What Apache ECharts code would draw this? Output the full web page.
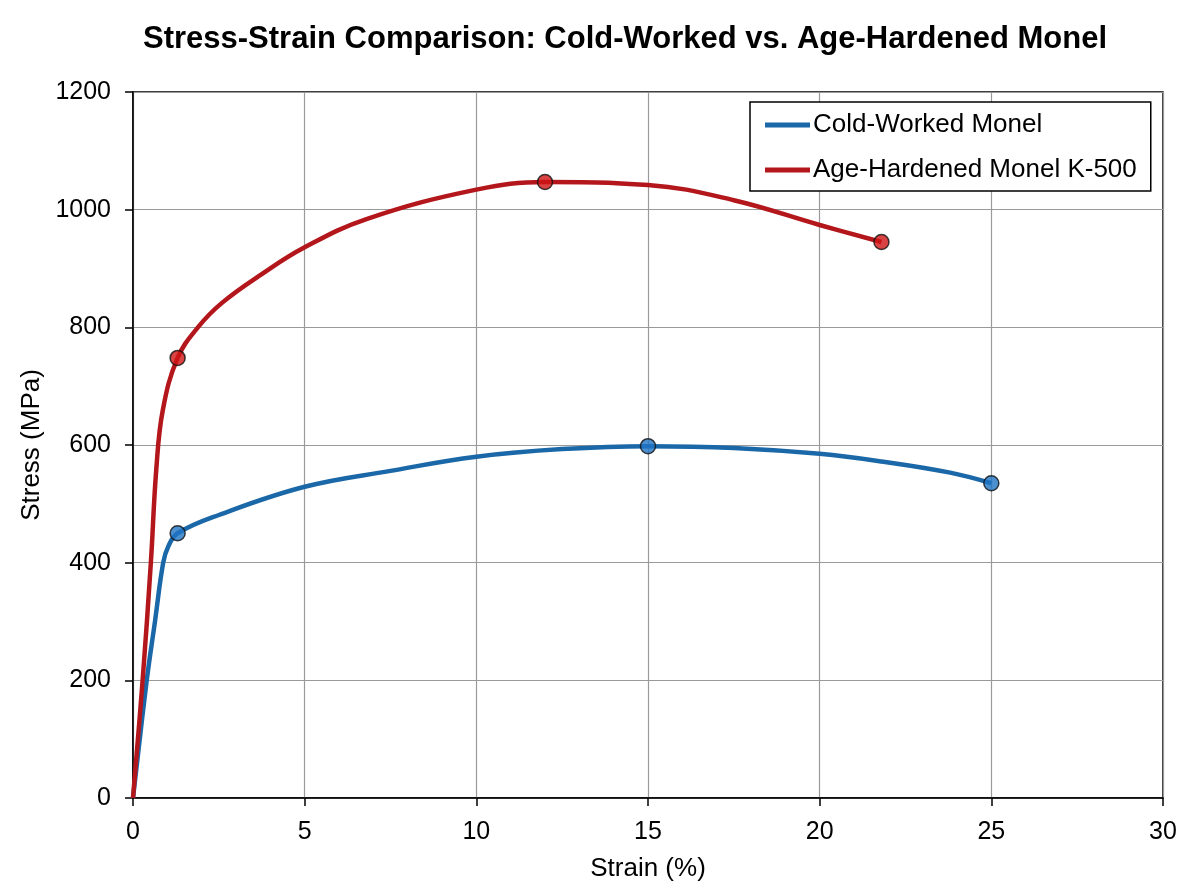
<!DOCTYPE html>
<html>
<head>
<meta charset="utf-8">
<title>Stress-Strain Comparison</title>
<script src="https://cdn.jsdelivr.net/npm/echarts@6/dist/echarts.min.js"></script>
<style>
  html, body { margin: 0; padding: 0; background: #fff; }
  #chart { width: 1200px; height: 896px; }
</style>
</head>
<body>
<div id="chart"></div>
<script>
// ---- Data ----
const titleText = 'Stress-Strain Comparison: Cold-Worked vs. Age-Hardened Monel';
const seriesNames = ['Cold-Worked Monel', 'Age-Hardened Monel K-500'];

const coldStrain = [0, 0.40, 0.64, 0.88, 1.03, 1.3, 2.5, 5, 7.5, 10, 12.5, 15, 17.5, 20, 21.8, 23.8, 25];
const coldStress = [0, 200, 300, 400, 428, 450, 481, 529, 556, 580, 593, 598, 595, 585, 572, 553, 535];
const coldMarkStrain = [1.3, 15, 25];
const coldMarkStress = [450, 598, 535];

const ageStrain = [0, 0.28, 0.52, 0.68, 0.87, 1.3, 1.89, 2.6, 3.74, 5, 6.8, 10, 12, 15, 17.5, 20, 21.8];
const ageStress = [0, 200, 400, 560, 660, 748, 800, 842, 890, 936, 984, 1034, 1047, 1042, 1016, 974, 945];
const ageMarkStrain = [1.3, 12, 21.8];
const ageMarkStress = [748, 1047, 945];

const xTicks = [0, 5, 10, 15, 20, 25, 30];
const yTicks = [0, 200, 400, 600, 800, 1000, 1200];

// ---- Build ----
const FONT = "'Liberation Sans', Arial, Helvetica, sans-serif";
const zip = (a, b) => a.map((v, i) => [v, b[i]]);
const BLUE = '#1b68a8', BLUE_M = '#1f74c4';
const RED = '#b3171c', RED_M = '#cf1414';

const chart = echarts.init(document.getElementById('chart'), null, { renderer: 'canvas' });
chart.setOption({
  backgroundColor: '#ffffff',
  animation: false,
  textStyle: { fontFamily: FONT },
  title: {
    text: titleText,
    left: 625, top: 24, textAlign: 'center', padding: 0,
    textStyle: { fontFamily: FONT, fontSize: 31, fontWeight: 'bold', color: '#000' }
  },
  grid: {
    left: 133, right: 37, top: 92, bottom: 98,
    show: true, borderColor: '#000', borderWidth: 1.5, backgroundColor: 'transparent'
  },
  legend: {
    orient: 'vertical', left: 750, top: 102,
    padding: [10, 14, 8, 15], itemGap: 19,
    itemWidth: 45, itemHeight: 5, icon: 'rect',
    borderColor: '#000', borderWidth: 1.5, backgroundColor: '#fff',
    data: seriesNames,
    textStyle: { fontFamily: FONT, fontSize: 26, color: '#000', lineHeight: 26, padding: [0, 0, 0, -2] }
  },
  xAxis: {
    type: 'value', min: xTicks[0], max: xTicks[xTicks.length - 1], interval: 5,
    name: 'Strain (%)', nameLocation: 'middle', nameGap: 58,
    nameTextStyle: { fontFamily: FONT, fontSize: 26, color: '#000' },
    axisLine: { show: true, onZero: false, lineStyle: { color: '#000', width: 1.5 } },
    axisTick: { show: true, inside: false, length: 8, lineStyle: { color: '#000', width: 1.5 } },
    axisLabel: { fontFamily: FONT, fontSize: 25, color: '#000', margin: 22 },
    splitLine: { show: true, lineStyle: { color: '#9a9a9a', width: 1.2 } }
  },
  yAxis: {
    type: 'value', min: yTicks[0], max: yTicks[yTicks.length - 1], interval: 200,
    name: 'Stress (MPa)', nameLocation: 'middle', nameGap: 74,
    nameTextStyle: { fontFamily: FONT, fontSize: 26, color: '#000' },
    axisLine: { show: true, onZero: false, lineStyle: { color: '#000', width: 1.5 } },
    axisTick: { show: true, inside: false, length: 8, lineStyle: { color: '#000', width: 1.5 } },
    axisLabel: { fontFamily: FONT, fontSize: 25, color: '#000', margin: 22, formatter: v => String(v) },
    splitLine: { show: true, lineStyle: { color: '#9a9a9a', width: 1.2 } }
  },
  series: [
    {
      name: seriesNames[0], type: 'line', data: zip(coldStrain, coldStress),
      smooth: 0.4, symbol: 'none',
      lineStyle: { color: BLUE, width: 4.5 }, itemStyle: { color: BLUE }, z: 3
    },
    {
      name: seriesNames[1], type: 'line', data: zip(ageStrain, ageStress),
      smooth: 0.4, symbol: 'none',
      lineStyle: { color: RED, width: 4.5 }, itemStyle: { color: RED }, z: 3
    },
    {
      name: 'cold-marks', type: 'scatter', data: zip(coldMarkStrain, coldMarkStress),
      symbol: 'circle', symbolSize: 15,
      itemStyle: { color: BLUE_M, borderColor: '#111', borderWidth: 1.5 }, z: 5
    },
    {
      name: 'age-marks', type: 'scatter', data: zip(ageMarkStrain, ageMarkStress),
      symbol: 'circle', symbolSize: 15,
      itemStyle: { color: RED_M, borderColor: '#111', borderWidth: 1.5 }, z: 5
    }
  ]
});
</script>
</body>
</html>
